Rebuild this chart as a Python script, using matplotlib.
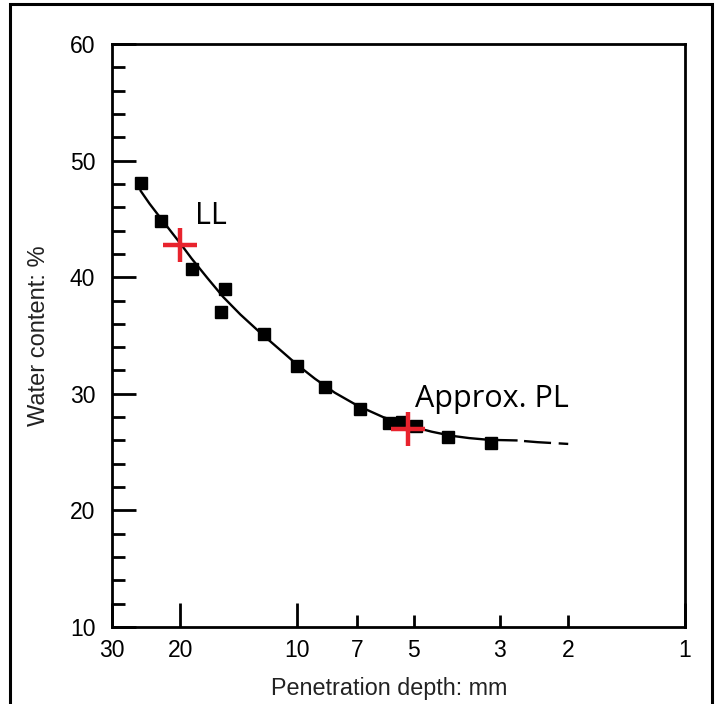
import matplotlib
matplotlib.use("Agg")
import matplotlib.pyplot as plt
from matplotlib.patches import Rectangle

plt.rcParams['font.family'] = ['Liberation Sans', 'DejaVu Sans']
plt.rcParams['lines.scale_dashes'] = False

# cone penetration test results
depth = [25.2, 22.4, 18.7, 15.3, 15.7, 12.2, 10.0, 8.46, 6.89, 5.79, 5.37, 4.95, 4.09, 3.16]
water = [48.1, 44.8, 40.7, 39.0, 37.0, 35.1, 32.4, 30.6, 28.7, 27.5, 27.6, 27.2, 26.3, 25.8]

# fitted trend line (solid part) and its extrapolation (dashed)
fit_depth = [25.3, 24.0, 22.4, 21.0, 20.0, 18.7, 17.0, 15.5, 14.0, 12.5, 11.0, 10.0, 9.0,
             8.0, 7.0, 6.0, 5.4, 5.0, 4.5, 4.0, 3.6, 3.2, 2.72]
fit_water = [47.4, 46.3, 45.0, 43.8, 42.9, 41.6, 39.9, 38.3, 36.8, 35.3, 33.7, 32.5, 31.3,
             30.1, 29.0, 28.0, 27.5, 27.15, 26.75, 26.4, 26.2, 26.05, 26.0]
ext_depth = [2.72, 2.4, 2.0]
ext_water = [26.0, 25.85, 25.7]

# liquid limit and approximate plastic limit
ll_point = (20.0, 42.8)
pl_point = (5.18, 27.0)

x_major = [30, 20, 10, 1]
x_minor = [7, 5, 3, 2]

fig = plt.figure(figsize=(7.16, 7.04), dpi=100)
ax = fig.add_axes([0.1564, 0.1094, 0.8003, 0.8281])

ax.plot(fit_depth, fit_water, color='black', lw=1.7, zorder=2)
ax.plot(ext_depth, ext_water, color='black', lw=1.7, linestyle=(19.5, (19.5, 5.5)), zorder=2)
ax.plot(depth, water, 's', color='black', ms=8, zorder=3)

red = '#e8232d'
ax.plot(*ll_point, '+', color=red, ms=25, mew=3.2, zorder=4)
ax.plot(*pl_point, '+', color=red, ms=25, mew=3.2, zorder=4)
ax.text(18.3, 44.55, 'LL', family='Open Sans', fontsize=22, va='baseline', ha='left')
ax.text(4.97, 28.87, 'Approx. PL', family='Open Sans', fontsize=22, va='baseline', ha='left')

ax.set_xscale('log')
ax.set_xlim(30, 1)
ax.set_ylim(10, 60)

ax.set_xticks(x_major, labels=[str(t) for t in x_major])
ax.set_xticks(x_minor, labels=[str(t) for t in x_minor], minor=True)
ax.set_yticks(range(10, 61, 10))
ax.set_yticks(range(10, 61, 2), minor=True)

ax.tick_params(which='major', direction='in', length=17, width=2.0, labelsize=16.5,
               pad=9, colors='black', top=False, right=False)
ax.tick_params(which='minor', direction='in', length=9, width=2.0, labelsize=16.5,
               pad=9, top=False, right=False)
ax.tick_params(axis='y', which='both', pad=12)
for s in ax.spines.values():
    s.set_linewidth(2.0)

ax.set_xlabel('Penetration depth: mm', fontsize=16.8, color='#222222')
ax.set_ylabel('Water content: %', fontsize=17, color='#222222', labelpad=14)
ax.xaxis.set_label_coords(0.483, -0.086)

# outer frame
fig.patches.append(Rectangle((10 / 716, -0.02), 702 / 716, 1.0 - 4 / 704 + 0.02,
                             transform=fig.transFigure, fill=False, lw=2.2,
                             edgecolor='black', zorder=10))

fig.savefig('out.png', dpi=100)
